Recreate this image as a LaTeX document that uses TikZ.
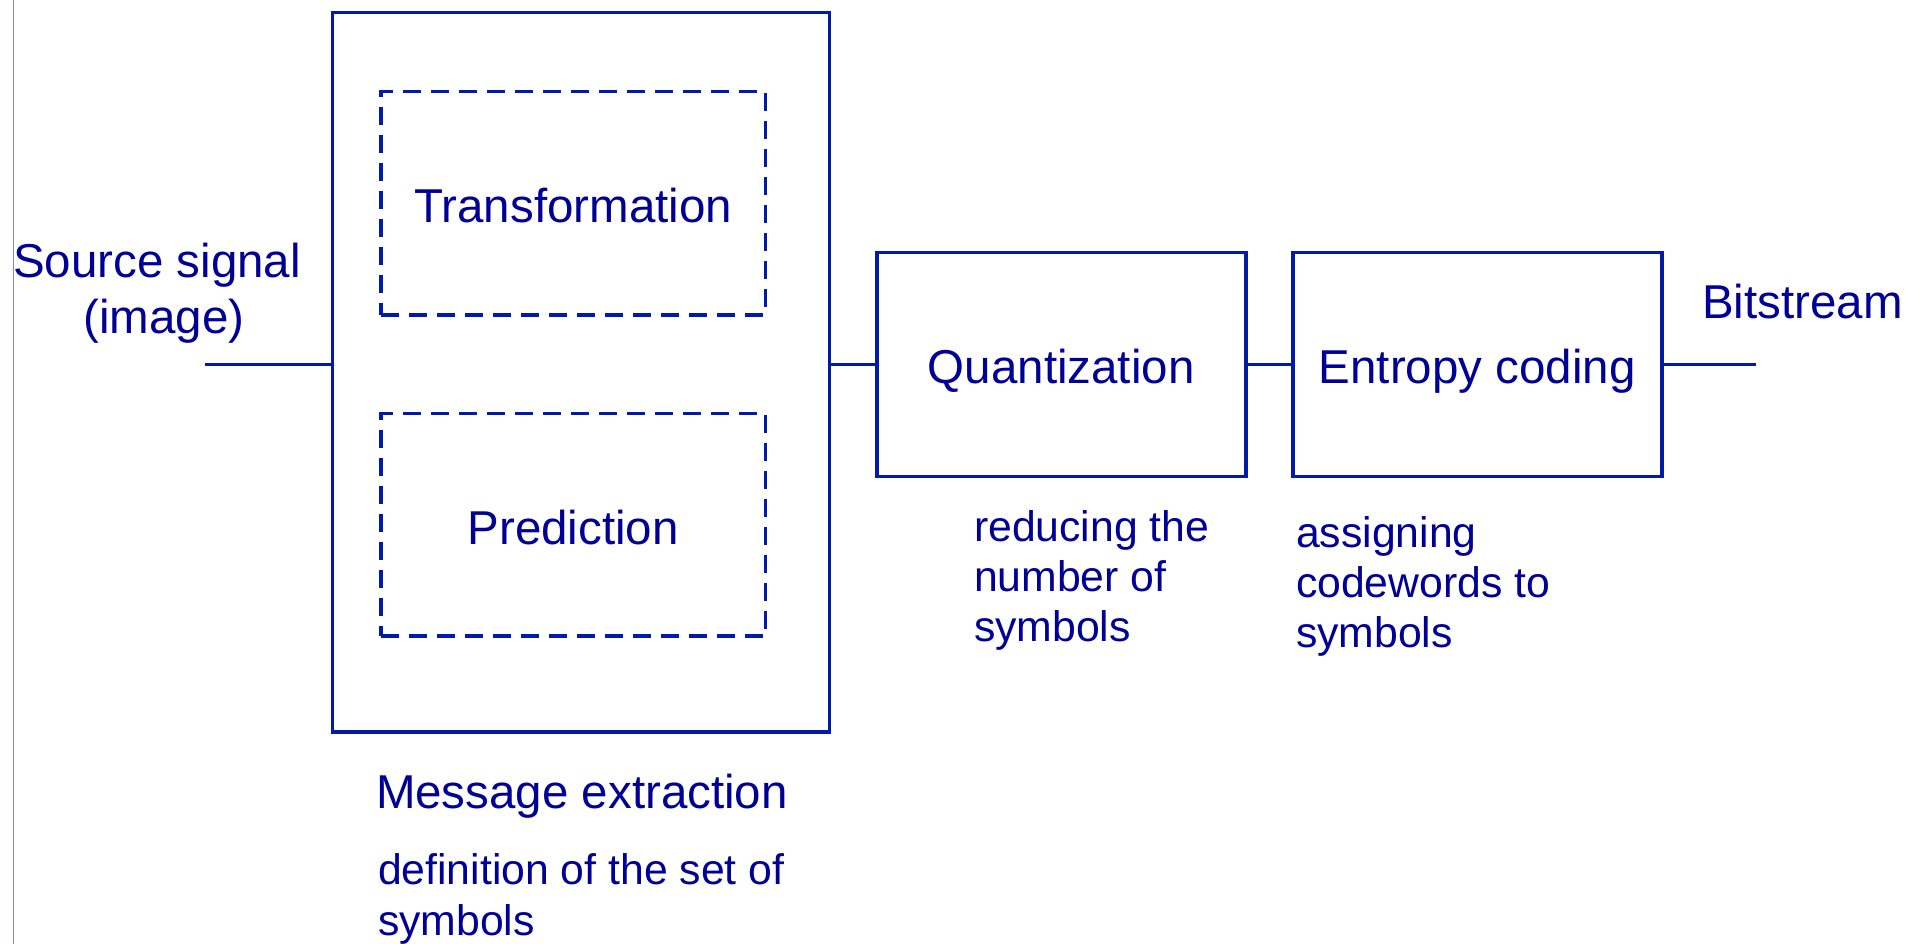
\documentclass[tikz,border=0pt]{standalone}
\usepackage{fontspec}
\setmainfont{Liberation Sans}
\definecolor{lineblue}{RGB}{0,26,170}
\definecolor{textblue}{RGB}{0,0,150}
\definecolor{edgeblue}{RGB}{110,140,255}
\newcommand\pxu{0.4pt}
\begin{document}
\begin{tikzpicture}[x=0.4pt,y=-0.4pt,
  every node/.style={inner sep=0pt, outer sep=0pt, text=textblue},
  bigtext/.style={font=\fontsize{19}{22}\selectfont},
  smalltext/.style={font=\fontsize{17.1}{20}\selectfont},
  block/.style={draw=lineblue, line width=1.55pt, bigtext, text height=15.6pt, text depth=0pt},
  dashblock/.style={block, line width=1.45pt, dash pattern=on 7.2pt off 4pt},
  wire/.style={draw=lineblue, line width=1.55pt},
  lbl/.style={anchor=base west}]
\useasboundingbox (0,0) rectangle (1912,944);
% left thin border line
\draw[edgeblue, line width=0.6pt] (13.3,0) -- (13.3,944);
% blocks
\node[block, minimum width={497*\pxu}, minimum height={719.5*\pxu}] (msg) at (581,372.25) {};
\node[dashblock, minimum width={384.5*\pxu}, minimum height={223.3*\pxu}] (trans) at (573.2,203.3) {Transformation};
\node[dashblock, minimum width={384.5*\pxu}, minimum height={222.7*\pxu}] (pred) at (573.2,524.7) {Prediction};
\node[block, minimum width={369*\pxu}, minimum height={224*\pxu}] (quant) at (1061.2,364.5) {Quantization};
\node[block, minimum width={369*\pxu}, minimum height={224*\pxu}] (ent) at (1477.2,364.5) {Entropy coding};
% connectors
\coordinate (srcend) at (205,364.5);
\coordinate (outend) at (1756,364.5);
\draw[wire] (srcend) -- (srcend -| msg.west);
\draw[wire] (quant.west -| msg.east) -- (quant.west);
\draw[wire] (quant.east) -- (ent.west);
\draw[wire] (ent.east) -- (outend);
% labels
\node[bigtext, anchor=base] (src1) at (157,277.7) {Source signal};
\node[bigtext, anchor=base] (src2) at (164,333.3) {(image)};
\node[bigtext, lbl] (bits) at (1702,318.5) {Bitstream};
\node[bigtext, lbl] (msgl) at (376,808.7) {Message extraction};
\node[smalltext, lbl] (def1) at (378,884.3) {definition of the set of};
\node[smalltext, lbl] (def2) at (378,935.3) {symbols};
\node[smalltext, lbl] (red1) at (974,542) {reducing the};
\node[smalltext, lbl] (red2) at (974,592) {number of};
\node[smalltext, lbl] (red3) at (974,642) {symbols};
\node[smalltext, lbl] (ass1) at (1296,548) {assigning};
\node[smalltext, lbl] (ass2) at (1296,598) {codewords to};
\node[smalltext, lbl] (ass3) at (1296,648) {symbols};
\end{tikzpicture}
\end{document}
